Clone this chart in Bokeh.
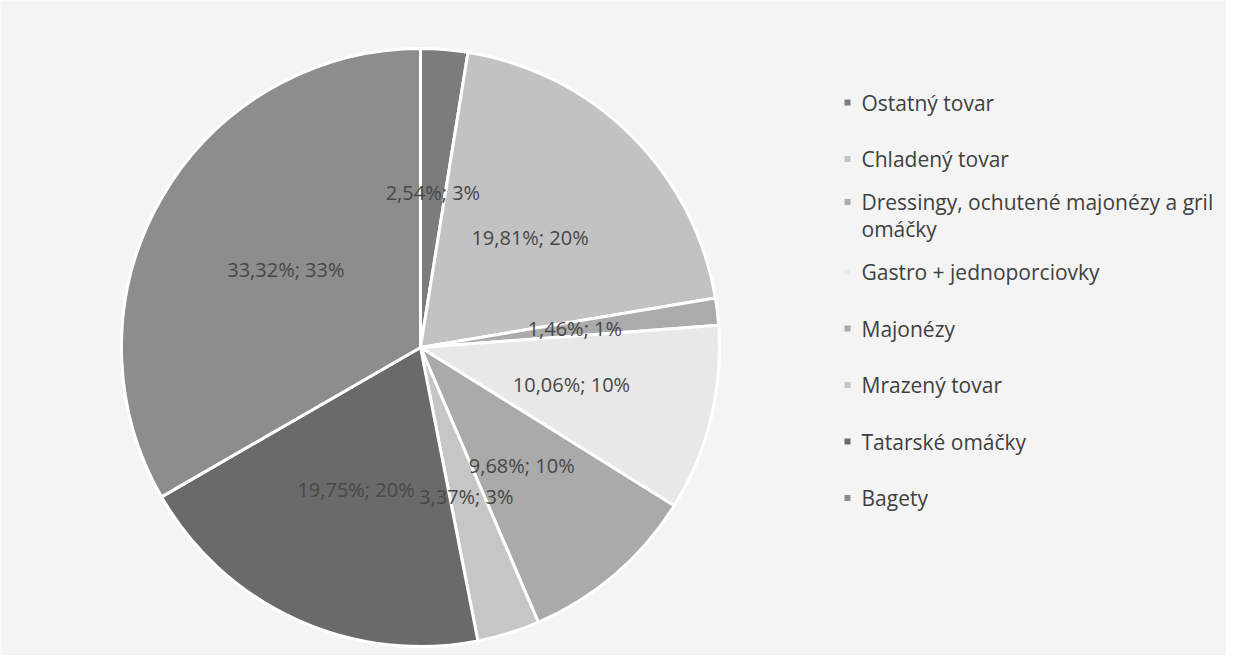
import math
from bokeh.plotting import figure
from bokeh.models import Range1d, ColumnDataSource
from bokeh.core.properties import value
from bokeh.embed import file_html
from bokeh.resources import INLINE

categories = ["Ostatný tovar", "Chladený tovar",
              "Dressingy, ochutené majonézy a gril\nomáčky",
              "Gastro + jednoporciovky", "Majonézy", "Mrazený tovar",
              "Tatarské omáčky", "Bagety"]
shares = [2.54, 19.81, 1.46, 10.06, 9.68, 3.37, 19.75, 33.32]
rounded = [3, 20, 1, 10, 10, 3, 20, 33]
colors = ["#7c7c7c", "#c2c2c2", "#ababab", "#e8e8e8", "#aaaaaa", "#c6c6c6", "#6a6a6a", "#8d8d8d"]

W, H = 1226, 655
p = figure(width=W, height=H, output_backend="svg", toolbar_location=None,
           x_range=Range1d(0, W), y_range=Range1d(0, H), min_border=0,
           background_fill_color="#f4f4f4", border_fill_color="#f4f4f4")
p.axis.visible = False
p.grid.visible = False
p.outline_line_color = None

cx, cy, r = 420, H - 347, 299
total = sum(shares)
starts, ends, lx, ly, labels = [], [], [], [], []
cum = 0.0
for s, rd in zip(shares, rounded):
    a0 = math.pi / 2 - 2 * math.pi * cum / total
    cum += s
    a1 = math.pi / 2 - 2 * math.pi * cum / total
    starts.append(a0)
    ends.append(a1)
    mid = (a0 + a1) / 2
    lx.append(cx + 0.52 * r * math.cos(mid))
    ly.append(cy + 0.52 * r * math.sin(mid))
    labels.append(f"{s:.2f}".replace(".", ",") + f"%; {rd}%")

src = ColumnDataSource(dict(start=starts, end=ends, color=colors))
p.wedge(x=cx, y=cy, radius=r, start_angle="start", end_angle="end",
        direction="clock", fill_color="color", line_color="white", line_width=3,
        source=src)

p.text(x=lx, y=ly, text=labels, text_font=value("Open Sans"), text_font_size="20px",
       text_color="#474747", text_align="center", text_baseline="middle")

# legend
step = 56.5
top = H - 102
line_gap = 27
text_y, mark_y = [], []
for i, c in enumerate(categories):
    yc = top - i * step
    n = c.count("\n") + 1
    text_y.append(yc)
    mark_y.append(yc + (n - 1) * line_gap / 2)
p.scatter(x=[847] * len(categories), y=mark_y,
          marker="square", size=6, fill_color=colors, line_color=None)
p.text(x=[861] * len(categories), y=text_y, text=categories,
       text_font=value("Open Sans"), text_font_size="21px", text_color="#404040",
       text_align="left", text_baseline="middle", text_line_height=0.95)

open("out.html", "w").write(file_html(p, INLINE))
